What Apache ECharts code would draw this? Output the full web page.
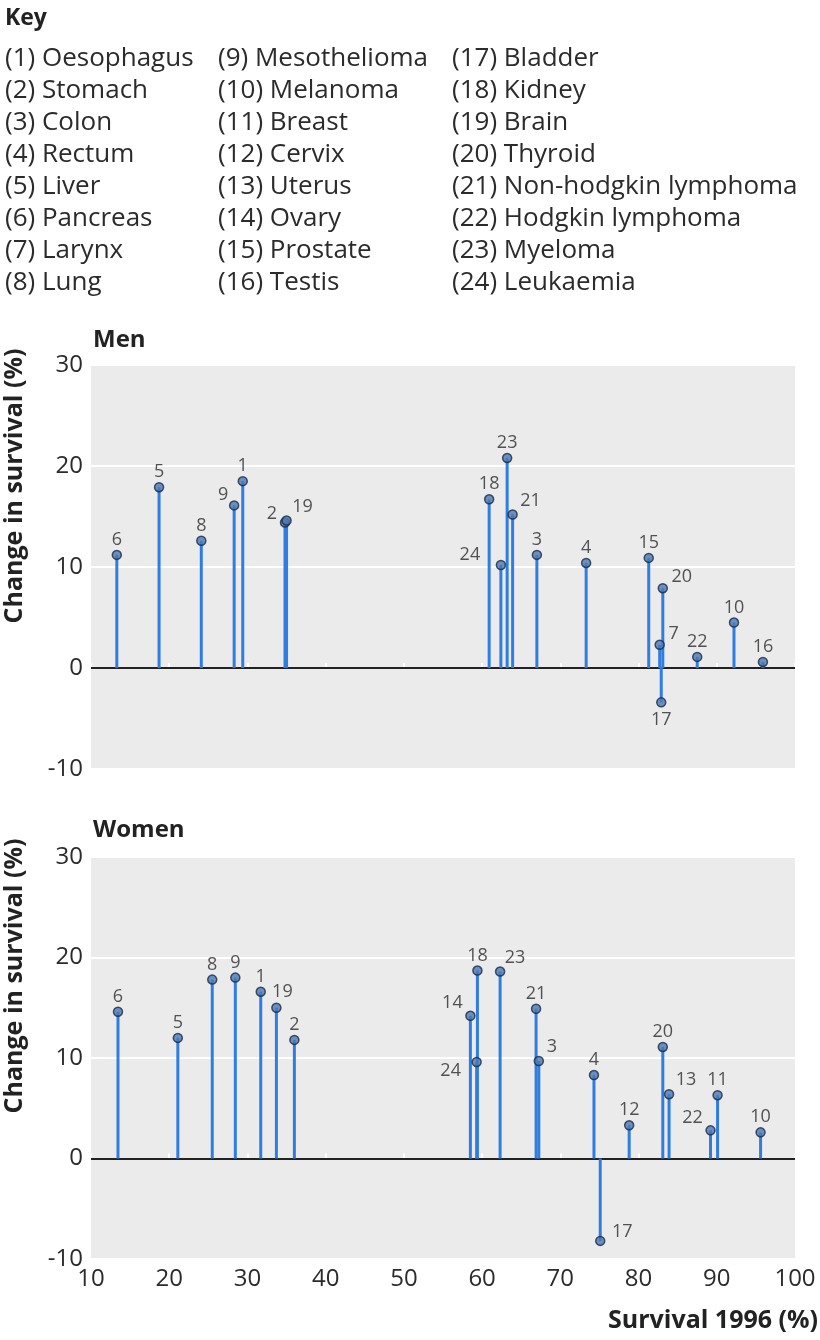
<!DOCTYPE html>
<html>
<head>
<meta charset="utf-8">
<script src="https://cdn.jsdelivr.net/npm/echarts@6/dist/echarts.min.js"></script>
<style>
html,body{margin:0;padding:0;background:#fff;}
#chart{width:820px;height:1340px;}
</style>
</head>
<body>
<div id="chart"></div>
<script>
// ---------- DATA ----------
const keyNames = [
  'Oesophagus','Stomach','Colon','Rectum','Liver','Pancreas','Larynx','Lung',
  'Mesothelioma','Melanoma','Breast','Cervix','Uterus','Ovary','Prostate','Testis',
  'Bladder','Kidney','Brain','Thyroid','Non-hodgkin lymphoma','Hodgkin lymphoma','Myeloma','Leukaemia'
];
const xTicks = [10,20,30,40,50,60,70,80,90,100];
const yTicks = [-10,0,10,20,30];

// Men: cancer id, survival 1996 (%), change in survival (%)
const menIds      = [6,    5,    8,    9,    1,    2,    19,   18,   24,   23,   21,   3,    4,    15,   20,   7,    17,   22,   10,   16];
const menSurvival = [13.3, 18.7, 24.1, 28.3, 29.4, 34.8, 35.0, 60.9, 62.4, 63.2, 63.9, 67.0, 73.3, 81.3, 83.1, 82.7, 82.9, 87.5, 92.2, 95.9];
const menChange   = [11.2, 17.9, 12.6, 16.1, 18.5, 14.4, 14.6, 16.7, 10.2, 20.8, 15.2, 11.2, 10.4, 10.9, 7.9,  2.3,  -3.4, 1.1,  4.5,  0.6];

// Women
const womenIds      = [6,    5,    8,    9,    1,    19,   2,    14,   18,   24,   23,   21,   3,    4,    17,   12,   20,   13,   22,   11,   10];
const womenSurvival = [13.45,21.1, 25.5, 28.45,31.7, 33.7, 36.0, 58.5, 59.4, 59.3, 62.3, 66.9, 67.25,74.3, 75.1, 78.8, 83.1, 83.9, 89.2, 90.1, 95.6];
const womenChange   = [14.6, 12.0, 17.8, 18.0, 16.6, 15.0, 11.8, 14.2, 18.7, 9.6,  18.6, 14.9, 9.7,  8.3,  -8.2, 3.3,  11.1, 6.4,  2.8,  6.3,  2.6];

// ---------- LABEL PLACEMENT (pixel offsets from marker centre) ----------
const TOP = [0,-15];
const menLabelOffset = {9:[-11,-11],2:[-13,-9],19:[16,-14],24:[-31,-10],21:[18,-14],20:[19,-11],7:[14,-11],17:[0,18]};
const womenLabelOffset = {19:[6,-16],14:[-18,-13],24:[-26,9],23:[15,-14],3:[13,-14],17:[22,-9],13:[17,-14],22:[-18,-12]};

// ---------- STYLE ----------
const FONT = '"Open Sans", "Noto Sans", sans-serif';
const TXT = '#2b2b2b';
const STEM = '#2f7de1';
const PANEL_BG = '#ebebeb';

function pts(ids, xs, ys, offs){
  return ids.map((id,i)=>({
    value:[xs[i], ys[i], id],
    label:{offset: offs[id] || TOP}
  }));
}
function stemSeries(idx, ids, xs, ys){
  return {
    type:'custom', xAxisIndex:idx, yAxisIndex:idx, z:3,
    data: ids.map((id,i)=>[xs[i], ys[i]]),
    renderItem:function(params, api){
      const p0 = api.coord([api.value(0), 0]);
      const p1 = api.coord([api.value(0), api.value(1)]);
      return {type:'line', shape:{x1:p0[0],y1:p0[1],x2:p1[0],y2:p1[1]},
              style:{stroke:STEM, lineWidth:3}};
    },
    markLine:{silent:true, symbol:'none', label:{show:false},
      lineStyle:{color:'#222', width:2, type:'solid'},
      data:[{yAxis:0}], z:2}
  };
}
function dotSeries(idx, data){
  return {
    type:'scatter', xAxisIndex:idx, yAxisIndex:idx, z:5,
    symbol:'circle', symbolSize:9,
    itemStyle:{color:'#4a79b8', borderColor:'#1c2b45', borderWidth:1.5},
    label:{show:true, position:'inside', formatter:p=>p.value[2],
      fontFamily:FONT, fontSize:18, color:TXT, align:'center', verticalAlign:'middle'},
    data:data
  };
}
function yAxisCfg(idx){
  return {
    type:'value', gridIndex:idx, min:-10, max:30, interval:10,
    axisLine:{show:false}, axisTick:{show:false},
    axisLabel:{fontFamily:FONT, fontSize:24, color:TXT, margin:8,
      customValues: yTicks},
    splitLine:{show:true, lineStyle:{color:'#ffffff', width:2}}
  };
}
function xAxisCfg(idx, showLabels){
  return {
    type:'value', gridIndex:idx, min:10, max:100, interval:10,
    axisLine:{show:false},
    axisTick:{show:true, inside:true, length:5, lineStyle:{color:'#ffffff', width:2}},
    axisLabel:{show:showLabels, fontFamily:FONT, fontSize:24, color:TXT, margin:8},
    splitLine:{show:false}
  };
}

// key graphics
const keyGraphics = [{type:'text', x:5, y:18,
  style:{text:'Key', font:'bold 23px '+FONT, fill:'#222', textVerticalAlign:'middle'}}];
const colX = [5, 218, 452];
keyNames.forEach((name,i)=>{
  const col = Math.floor(i/8), row = i%8;
  keyGraphics.push({type:'text', x:colX[col], y:58.3 + row*32.1,
    style:{text:'('+(i+1)+') '+name, font:'26px '+FONT, fill:TXT, textVerticalAlign:'middle'}});
});

const chart = echarts.init(document.getElementById('chart'), null, {renderer:'canvas'});
chart.setOption({
  animation:false,
  backgroundColor:'#ffffff',
  grid:[
    {left:91, right:25, top:365, height:404, show:true, backgroundColor:PANEL_BG, borderWidth:0},
    {left:91, right:25, top:857, height:402, show:true, backgroundColor:PANEL_BG, borderWidth:0}
  ],
  xAxis:[xAxisCfg(0,false), xAxisCfg(1,true)],
  yAxis:[yAxisCfg(0), yAxisCfg(1)],
  graphic: keyGraphics.concat([
    {type:'text', x:93, y:340, style:{text:'Men', font:'bold 24px '+FONT, fill:'#222', textVerticalAlign:'middle'}},
    {type:'text', x:93, y:830, style:{text:'Women', font:'bold 24px '+FONT, fill:'#222', textVerticalAlign:'middle'}},
    {type:'text', x:15, y:486, rotation:Math.PI/2,
      style:{text:'Change in survival (%)', font:'bold 25px '+FONT, fill:'#222', textAlign:'center', textVerticalAlign:'middle'}},
    {type:'text', x:15, y:976, rotation:Math.PI/2,
      style:{text:'Change in survival (%)', font:'bold 25px '+FONT, fill:'#222', textAlign:'center', textVerticalAlign:'middle'}},
    {type:'text', x:818, y:1321,
      style:{text:'Survival 1996 (%)', font:'bold 25px '+FONT, fill:'#222', textAlign:'right', textVerticalAlign:'middle'}}
  ]),
  series:[
    stemSeries(0, menIds, menSurvival, menChange),
    dotSeries(0, pts(menIds, menSurvival, menChange, menLabelOffset)),
    stemSeries(1, womenIds, womenSurvival, womenChange),
    dotSeries(1, pts(womenIds, womenSurvival, womenChange, womenLabelOffset))
  ]
});
</script>
</body>
</html>
